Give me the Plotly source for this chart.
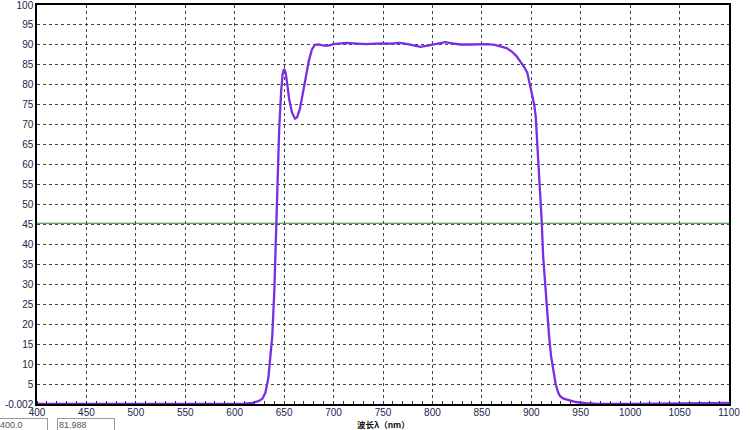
import plotly.graph_objects as go

wavelength = [400, 500, 600, 610, 618, 624, 628, 631, 634, 636, 638, 640, 641.5, 643, 645, 647,
              648.5, 650, 651.5, 653, 655, 658, 661, 663, 666, 669, 672, 675, 678, 681, 685, 690,
              695, 700, 705, 713, 720, 733, 742, 750, 758, 767, 775, 783, 788, 795, 802, 808, 813,
              820, 828, 838, 848, 856, 863, 870, 875, 880, 885, 889, 893, 896, 898.5, 901, 903,
              904.5, 906, 907.5, 909, 910.5, 912, 914, 916, 918, 920, 922, 924.5, 927, 929, 932,
              937, 945, 955, 965, 1000, 1050, 1100]
transmittance = [0, 0, 0, 0.1, 0.3, 0.7, 1.3, 2.8, 6.5, 11, 17, 28, 42, 56, 69, 78.5,
                 82.8, 84, 83, 80.5, 76.5, 73, 71.5, 71.8, 74, 78, 82.5, 86, 88.8, 90, 90.1, 89.8,
                 89.8, 90.2, 90.3, 90.5, 90.4, 90.2, 90.3, 90.4, 90.3, 90.5, 90.2, 89.7, 89.5, 89.8, 90.2, 90.5, 90.7,
                 90.4, 90.1, 90.1, 90.1, 90.2, 90.0, 89.6, 89.2, 88.4, 87.2, 85.8, 84.4, 83, 80.2, 77.8, 75,
                 72, 66, 60, 52, 46, 37, 29.5, 24.5, 17, 12, 8.5, 5.2, 3, 2, 1.4,
                 1, 0.5, 0.2, 0.1, 0, 0.2, 0.3]

x_ticks = list(range(400, 1101, 50))
y_ticks = [-0.002] + list(range(5, 101, 5))
y_ticktext = ["-0.002"] + [str(v) for v in range(5, 101, 5)]
ref_level = 45.3
x_title = "<b>波长λ（nm）</b>"
box_texts = ["400.0", "81.988"]

fig = go.Figure()
fig.add_trace(go.Scatter(x=wavelength, y=transmittance, mode="lines",
                         line=dict(color="#7a2ee0", width=2.3), hoverinfo="skip"))

fig.add_shape(type="line", xref="paper", x0=0, x1=1, yref="y", y0=ref_level, y1=ref_level,
              line=dict(color="#2e8b2e", width=1))

tick_font = dict(family="Liberation Sans, Arial", size=10, color="#1a2550")

fig.update_xaxes(range=[400, 1100], tickvals=x_ticks, showgrid=True, gridcolor="#444444",
                 gridwidth=1, griddash="3px,3px", showline=True, linecolor="black", linewidth=1.5,
                 mirror=True, ticks="", tickfont=tick_font, zeroline=False, automargin=False,
                 ticklabeloverflow="allow", ticklabelstandoff=-2,
                 minor=dict(dtick=10, ticks="inside", ticklen=3, tickcolor="#333333", showgrid=False))
fig.update_yaxes(range=[-0.002, 100], tickvals=y_ticks, ticktext=y_ticktext, showgrid=True,
                 gridcolor="#444444", gridwidth=1, griddash="3px,3px", showline=True,
                 linecolor="black", linewidth=1.5, mirror=True, ticks="", tickfont=tick_font,
                 zeroline=False, automargin=False, ticklabeloverflow="allow")

fig.add_annotation(text=x_title, xref="x", yref="paper", x=750, y=0, yanchor="middle",
                   yshift=-20, showarrow=False, borderpad=0,
                   font=dict(family="Noto Sans CJK SC", size=8.5, color="#111111"))

fig.add_annotation(text=box_texts[0], xref="paper", yref="paper", x=-0.056, y=-0.035,
                   xanchor="left", yanchor="top", showarrow=False, align="left",
                   font=dict(family="Liberation Sans, Arial", size=9, color="#555555"),
                   bordercolor="#999999", borderwidth=1, borderpad=1, width=46, bgcolor="white")
fig.add_annotation(text=box_texts[1], xref="paper", yref="paper", x=0.029, y=-0.035,
                   xanchor="left", yanchor="top", showarrow=False, align="left",
                   font=dict(family="Liberation Sans, Arial", size=9, color="#555555"),
                   bordercolor="#999999", borderwidth=1, borderpad=1, width=54, bgcolor="white")

fig.update_layout(width=750, height=430, margin=dict(l=37, r=21, t=5, b=26, autoexpand=False),
                  plot_bgcolor="white", paper_bgcolor="white", showlegend=False)

fig.write_html("out.html", config={"displayModeBar": False},
               post_script="document.body.style.margin='0';")
